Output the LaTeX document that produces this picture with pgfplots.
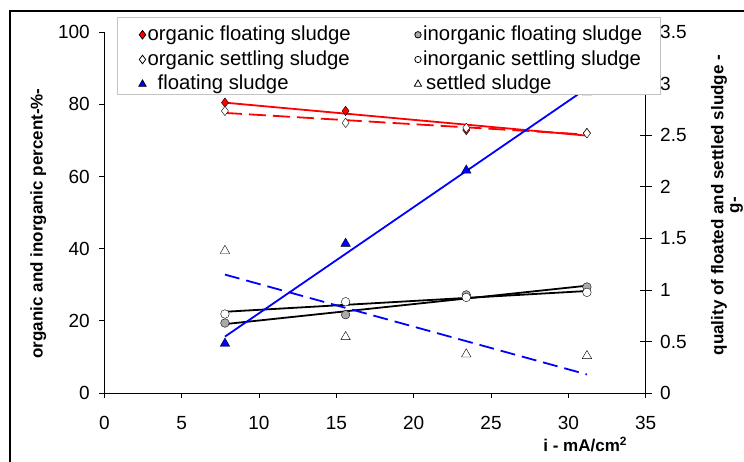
\documentclass[border=0pt]{standalone}
\usepackage{pgfplots}
\pgfplotsset{compat=1.18}
\usepackage{fontspec}
\setmainfont{Liberation Sans}
\definecolor{mygray}{RGB}{170,170,170}
\definecolor{legframe}{RGB}{195,195,195}
\pgfplotsset{
  common/.style={
    at={(0pt,0pt)}, anchor=south west,
    scale only axis, width=541.4pt, height=360.7pt,
    xmin=0, xmax=35,
    tick style={black, line width=0.8pt},
    axis line style={black, line width=1pt},
    tick label style={font=\fontsize{19}{22}\selectfont},
    /pgf/number format/assume math mode=true,
  },
  mk/.style={mark options={line width=0.6pt, draw=black}},
}
\begin{document}
\begin{tikzpicture}
\useasboundingbox (-104.3pt,-68pt) rectangle (639.7pt,393pt);
\fill[white] (-104.3pt,-68pt) rectangle (639.7pt,393pt);
\draw[line width=2.2pt] (-94pt,-72pt) -- (-94pt,382pt) -- (645pt,382pt);
\begin{axis}[common,
  ymin=0, ymax=100,
  axis x line*=bottom, axis y line*=left,
  xtick={0,5,...,35}, ytick={0,20,...,100},
  tick align=outside, major tick length=5pt,
  xticklabel style={yshift=-15pt},
  yticklabel style={xshift=-6pt},
  xlabel={i - mA/cm$^{\mathbf 2}$},
  ylabel={organic and inorganic percent-\%-},
  every axis x label/.style={at={(axis description cs:0.972,-0.163)}, anchor=base east, font=\fontsize{17}{17}\selectfont\bfseries},
  every axis y label/.style={at={(axis description cs:-0.122,0.47)}, anchor=center, rotate=90, font=\fontsize{17}{17}\selectfont\bfseries},
]
% markers
\addplot[only marks, mk, mark=diamond*, mark size=4.7pt, mark options={fill=red}] coordinates {(7.8,80.5) (15.6,78.2) (23.4,72.9) (31.2,72.1)};
\addplot[only marks, mk, mark=diamond*, mark size=4.7pt, mark options={fill=white}] coordinates {(7.8,78.2) (15.6,74.9) (23.4,73.5) (31.2,72.0)};
\addplot[only marks, mk, mark=*, mark size=4.3pt, mark options={fill=mygray}] coordinates {(7.8,19.4) (15.6,21.7) (23.4,27.2) (31.2,29.4)};
\addplot[only marks, mk, mark=*, mark size=4.3pt, mark options={fill=white}] coordinates {(7.8,21.9) (15.6,25.3) (23.4,26.5) (31.2,27.9)};
% trend lines
\addplot[red, line width=1.8pt] coordinates {(7.8,80.5) (31.2,71.35)};
\addplot[red, line width=1.8pt, dash pattern=on 17pt off 7pt] coordinates {(7.8,77.65) (31.2,71.65)};
\addplot[black, line width=1.8pt] coordinates {(7.8,19.1) (31.2,29.75)};
\addplot[black, line width=1.8pt] coordinates {(7.8,22.52) (31.2,28.28)};
\end{axis}
\begin{axis}[common,
  ymin=0, ymax=3.5,
  axis x line=none, axis y line*=right,
  ytick={0,0.5,...,3.5},
  ytick align=center, major tick length=12pt,
  yticklabel style={xshift=5pt},
  ylabel={quality of floated and settled sludge -\\g-},
  every axis y label/.style={at={(axis description cs:1.15,0.521)}, anchor=center, rotate=90, align=center, font=\fontsize{17}{16}\selectfont\bfseries},
  legend columns=2,
  legend style={at={(rel axis cs:0.024,1.0433)}, anchor=north west, draw=legframe, fill=white, line width=0.8pt,
    inner xsep=0pt, inner ysep=1.6pt, column sep=0pt, row sep=0pt,
    font=\fontsize{20.3}{24}\selectfont, cells={anchor=base west},
    nodes={inner xsep=0pt, inner ysep=0pt, text height=21.7pt, text depth=3pt}},
  legend image code/.code={\path (-24.4pt,0pt) (4.8pt,0pt); \draw[#1] plot coordinates {(0pt,5.6pt)};},
]
\addlegendimage{only marks, mk, mark=diamond*, mark size=4.3pt, mark options={fill=red}}
\addlegendentry{\makebox[245.5pt][l]{organic floating sludge}}
\addlegendimage{only marks, mk, mark=*, mark size=3.2pt, mark options={fill=mygray}}
\addlegendentry{\makebox[237.5pt][l]{inorganic floating sludge}}
\addlegendimage{only marks, mk, mark=diamond*, mark size=4.3pt, mark options={fill=white}}
\addlegendentry{\makebox[245.5pt][l]{organic settling sludge}}
\addlegendimage{only marks, mk, mark=*, mark size=3.2pt, mark options={fill=white}}
\addlegendentry{\makebox[237.5pt][l]{inorganic settling sludge}}
\addlegendimage{only marks, mk, mark=triangle*, mark size=4.2pt, mark options={fill=blue}}
\addlegendentry{\makebox[245.5pt][l]{\hspace{10pt}floating sludge}}
\addlegendimage{only marks, mk, mark=triangle*, mark size=4.2pt, mark options={fill=white}}
\addlegendentry{\makebox[237.5pt][l]{\hspace{3pt}settled sludge}}
\addplot[forget plot, only marks, mk, mark=triangle*, mark size=5.5pt, mark options={fill=blue}] coordinates {(7.8,0.48) (15.6,1.45) (23.4,2.16) (31.2,2.92)};
\addplot[forget plot, only marks, mk, mark=triangle*, mark size=5.5pt, mark options={fill=white}] coordinates {(7.8,1.38) (15.6,0.544) (23.4,0.376) (31.2,0.36)};
\addplot[forget plot, blue, line width=1.8pt] coordinates {(7.8,0.547) (31.2,2.957)};
\addplot[forget plot, blue, line width=1.8pt, dash pattern=on 15pt off 7pt] coordinates {(7.8,1.149) (31.2,0.18)};
\end{axis}
\end{tikzpicture}
\end{document}
